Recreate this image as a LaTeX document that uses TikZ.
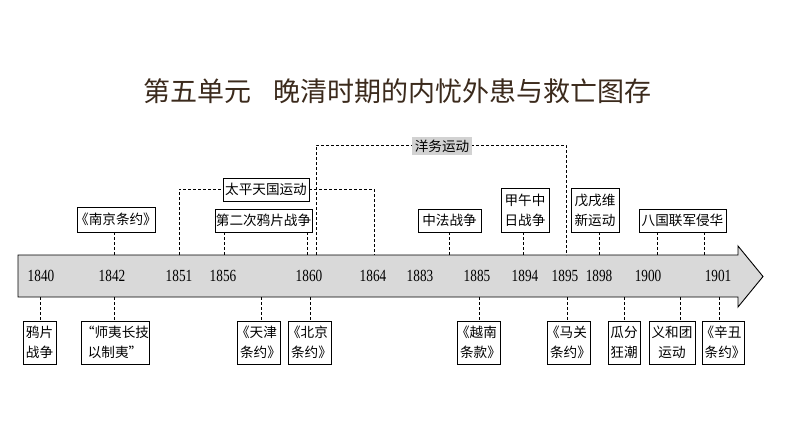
\documentclass[tikz,border=0pt]{standalone}
\usepackage{fontspec}
\newfontfamily\cjk{Noto Sans CJK SC}
\newfontfamily\numf[FakeStretch=0.78]{Liberation Serif}
\definecolor{titlebrown}{HTML}{3B2A1C}
\definecolor{arrowgray}{HTML}{D9D9D9}
\definecolor{labelgray}{HTML}{D2D2D2}
\newcommand\lbq{\kern-0.3em《}
\newcommand\rbq{》\kern-0.3em}
\begin{document}
\begin{tikzpicture}[x=1pt,y=-1pt,
  ev/.style={draw=black, line width=0.8pt, fill=white, inner sep=0pt,
    font=\cjk\fontsize{13.6}{20}\selectfont, align=center},
  dl/.style={dash pattern=on 3pt off 2pt, line width=0.7pt},
  yr/.style={font=\numf\fontsize{17}{17}\selectfont, inner sep=0pt}]
\useasboundingbox (0,0) rectangle (794,447);
\fill[white] (0,0) rectangle (794,447);

% title
\node[font=\cjk\fontsize{27}{28}\selectfont, text=titlebrown] (title) at (397.5,91)
  {第五单元\hspace{0.8em}晚清时期的内忧外患与救亡图存};

% timeline arrow
\draw[fill=arrowgray, line width=0.9pt] (18,255) -- (738,255) -- (738,246) -- (763,276.5)
  -- (738,307) -- (738,297) -- (18,297) -- cycle;

% years
\node[yr] (y1840) at (41,276) {1840};
\node[yr] (y1842) at (112,276) {1842};
\node[yr] (y1851) at (179,276) {1851};
\node[yr] (y1856) at (223,276) {1856};
\node[yr] (y1860) at (309,276) {1860};
\node[yr] (y1864) at (373,276) {1864};
\node[yr] (y1883) at (420,276) {1883};
\node[yr] (y1885) at (477,276) {1885};
\node[yr] (y1894) at (525,276) {1894};
\node[yr] (y1895) at (565,276) {1895};
\node[yr] (y1898) at (599,276) {1898};
\node[yr] (y1900) at (648,276) {1900};
\node[yr] (y1901) at (718,276) {1901};

% axis attachment points (top edge)
\coordinate (t114) at (114,255);
\coordinate (t179) at (179,255);
\coordinate (t224) at (224,255);
\coordinate (t307) at (307,255);
\coordinate (t316) at (316,255);
\coordinate (t374) at (374,255);
\coordinate (t449) at (449,255);
\coordinate (t523) at (523,255);
\coordinate (t566) at (566,255);
\coordinate (t599) at (599,255);
\coordinate (t657) at (657,255);
\coordinate (t704) at (704,255);
% axis attachment points (bottom edge)
\coordinate (b40) at (40,297);
\coordinate (b114) at (114,297);
\coordinate (b261) at (261,297);
\coordinate (b310) at (310,297);
\coordinate (b479) at (479,297);
\coordinate (b567) at (567,297);
\coordinate (b624) at (624,297);
\coordinate (b680) at (680,297);
\coordinate (b719) at (719,297);
% bracket corners
\coordinate (c179) at (179,189);
\coordinate (c374) at (374,189);
\coordinate (c316) at (316,145);
\coordinate (c566) at (566,145);

% Yangwu bracket (line first, label on top)
\draw[dl] (t316) -- (c316) -- (c566) -- (t566);
\node[fill=labelgray, inner sep=0pt, minimum width=60pt, minimum height=18pt,
  font=\cjk\fontsize{13.6}{14}\selectfont] (yw) at (442,146) {洋务运动};

% upper events
\node[ev, minimum width=78pt, minimum height=25pt] (nj) at (116,219.5) {\lbq 南京条约\rbq};
\node[ev, minimum width=86pt, minimum height=23pt] (tp) at (266,189.5) {太平天国运动};
\node[ev, minimum width=97pt, minimum height=23pt] (de) at (263.5,220.5) {第二次鸦片战争};
\node[ev, minimum width=63pt, minimum height=23pt] (zf) at (449.5,220.5) {中法战争};
\node[ev, minimum width=48pt, minimum height=44pt] (jw) at (525,210) {甲午中\\日战争};
\node[ev, minimum width=48pt, minimum height=44pt] (wx) at (595,210) {戊戌维\\新运动};
\node[ev, minimum width=87pt, minimum height=23pt] (bg) at (682.5,220.5) {八国联军侵华};

% Taiping bracket
\draw[dl] (t179) -- (c179) -- (tp.west |- c179);
\draw[dl] (tp.east |- c374) -- (c374) -- (t374);

% upper connectors
\draw[dl] (nj.south -| t114) -- (t114);
\draw[dl] (de.south -| t224) -- (t224);
\draw[dl] (de.south -| t307) -- (t307);
\draw[dl] (zf.south -| t449) -- (t449);
\draw[dl] (jw.south -| t523) -- (t523);
\draw[dl] (wx.south -| t599) -- (t599);
\draw[dl] (bg.south -| t657) -- (t657);
\draw[dl] (bg.south -| t704) -- (t704);

% lower events
\node[ev, minimum width=33pt, minimum height=43pt] (yp) at (39.5,342.5) {鸦片\\战争};
\node[ev, minimum width=66pt, minimum height=43pt] (sy) at (115,342.5) {“师夷长技\\以制夷”};
\node[ev, minimum width=43pt, minimum height=43pt] (tj) at (258.5,342.5) {\lbq 天津\\条约\rbq};
\node[ev, minimum width=43pt, minimum height=43pt] (bj) at (309.5,342.5) {\lbq 北京\\条约\rbq};
\node[ev, minimum width=43pt, minimum height=43pt] (yn) at (478.5,342.5) {\lbq 越南\\条款\rbq};
\node[ev, minimum width=43pt, minimum height=43pt] (mg) at (568.5,342.5) {\lbq 马关\\条约\rbq};
\node[ev, minimum width=32pt, minimum height=43pt] (gf) at (624,342.5) {瓜分\\狂潮};
\node[ev, minimum width=46pt, minimum height=43pt] (yh) at (672,342.5) {义和团\\运动};
\node[ev, minimum width=42pt, minimum height=43pt] (xc) at (723,342.5) {\lbq 辛丑\\条约\rbq};

% lower connectors
\draw[dl] (b40) -- (yp.north -| b40);
\draw[dl] (b114) -- (sy.north -| b114);
\draw[dl] (b261) -- (tj.north -| b261);
\draw[dl] (b310) -- (bj.north -| b310);
\draw[dl] (b479) -- (yn.north -| b479);
\draw[dl] (b567) -- (mg.north -| b567);
\draw[dl] (b624) -- (gf.north -| b624);
\draw[dl] (b680) -- (yh.north -| b680);
\draw[dl] (b719) -- (xc.north -| b719);
\end{tikzpicture}
\end{document}
